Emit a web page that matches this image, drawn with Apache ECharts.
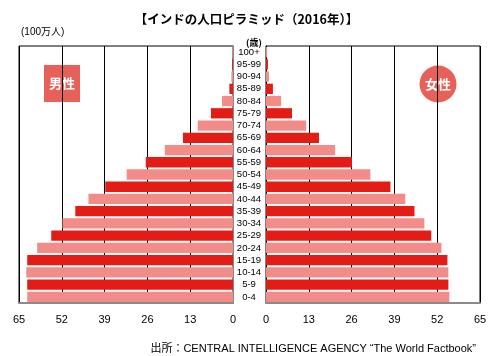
<!DOCTYPE html>
<html><head><meta charset="utf-8">
<script src="https://cdn.jsdelivr.net/npm/echarts@6/dist/echarts.min.js"></script>
<style>html,body{margin:0;padding:0;background:#fff}#c{width:493px;height:356px}</style>
</head><body><div id="c"></div>
<script>
var ageGroups = ['0-4','5-9','10-14','15-19','20-24','25-29','30-34','35-39','40-44','45-49','50-54','55-59','60-64','65-69','70-74','75-79','80-84','85-89','90-94','95-99','100+'];
var male   = [62.5, 62.5, 62.8, 62.5, 59.5, 55.2, 51.8, 47.9, 43.9, 38.8, 32.3, 26.5, 20.7, 15.2, 10.7, 6.7, 3.35, 1.1, 0.5, 0.3, 0.15];
var female = [55.7, 55.4, 55.4, 55.1, 53.3, 50.2, 48.1, 45.1, 42.3, 37.8, 31.7, 26.1, 21.0, 16.1, 12.2, 7.9, 4.6, 2.1, 0.9, 0.6, 0.35];
var tickValues = [0, 13, 26, 39, 52, 65];

var DARK = '#e31c16', LIGHT = '#f28c88';
var FONT = '"Liberation Sans", "Noto Sans CJK JP", sans-serif';
function colorOf(p){ return p.dataIndex % 2 === 0 ? LIGHT : DARK; }

var chart = echarts.init(document.getElementById('c'), null, {renderer:'canvas'});
var xCommon = function(inv){ return {
  type:'value', min:tickValues[0], max:tickValues[tickValues.length-1], interval:13, inverse:inv,
  axisLine:{show:true, lineStyle:{color:'#8a8a8a', width:2}},
  axisTick:{show:false},
  axisLabel:{color:'#000', fontSize:11, fontFamily:FONT, margin:11},
  splitLine:{show:true, lineStyle:{color:'#000', width:1}}
};};
chart.setOption({
  backgroundColor:'#fff',
  animation:false,
  title:[
    {text:'【インドの人口ピラミッド（2016年）】', left:'center', top:8,
     textStyle:{fontSize:12.5, fontWeight:'bold', color:'#000', fontFamily:'"Noto Sans CJK JP", sans-serif'}},
    {text:'(100万人)', left:16, top:22, textStyle:{fontSize:10, fontWeight:'normal', color:'#000', fontFamily:FONT}},
    {text:'(歳)', left:249, top:33, textAlign:'center', textStyle:{fontSize:9, fontWeight:'bold', color:'#000', fontFamily:'"Noto Sans CJK JP", sans-serif'}},
    {text:'出所：CENTRAL INTELLIGENCE AGENCY “The World Factbook”', right:12, top:338,
     textStyle:{fontSize:11, fontWeight:'normal', color:'#000', fontFamily:FONT}}
  ],
  grid:[
    {left:19, right:260, top:46, bottom:53, show:true, borderColor:'#000', borderWidth:1},
    {left:266, right:13, top:46, bottom:53, show:true, borderColor:'#000', borderWidth:1}
  ],
  xAxis:[ Object.assign({gridIndex:0}, xCommon(true)), Object.assign({gridIndex:1}, xCommon(false)) ],
  yAxis:[
    {type:'category', gridIndex:0, data:ageGroups, position:'left',
     axisLine:{show:true, lineStyle:{color:'#8a8a8a', width:2}}, axisTick:{show:false}, axisLabel:{show:false}},
    {type:'category', gridIndex:1, data:ageGroups, position:'left',
     axisLine:{show:true, lineStyle:{color:'#000', width:1}}, axisTick:{show:false},
     axisLabel:{show:true, align:'center', margin:17, fontSize:9.5, color:'#000', fontFamily:FONT, interval:0}}
  ],
  series:[
    {type:'bar', xAxisIndex:0, yAxisIndex:0, data:male, barCategoryGap:'16%', itemStyle:{color:colorOf}},
    {type:'bar', xAxisIndex:1, yAxisIndex:1, data:female, barCategoryGap:'16%', itemStyle:{color:colorOf}}
  ],
  graphic:[
    {type:'group', left:44, top:65, children:[
      {type:'rect', shape:{x:0,y:0,width:36,height:37}, style:{fill:'#e8605a'}},
      {type:'text', x:18, y:18.5, style:{text:'男性', fill:'#fff', fontSize:13, fontWeight:'bold', fontFamily:'"Noto Sans CJK JP", sans-serif', align:'center', verticalAlign:'middle'}}
    ]},
    {type:'group', left:419.5, top:65.5, children:[
      {type:'circle', shape:{cx:18.5,cy:18.5,r:18.5}, style:{fill:'#e8605a'}},
      {type:'text', x:18.5, y:18.5, style:{text:'女性', fill:'#fff', fontSize:13, fontWeight:'bold', fontFamily:'"Noto Sans CJK JP", sans-serif', align:'center', verticalAlign:'middle'}}
    ]}
  ]
});
</script></body></html>
